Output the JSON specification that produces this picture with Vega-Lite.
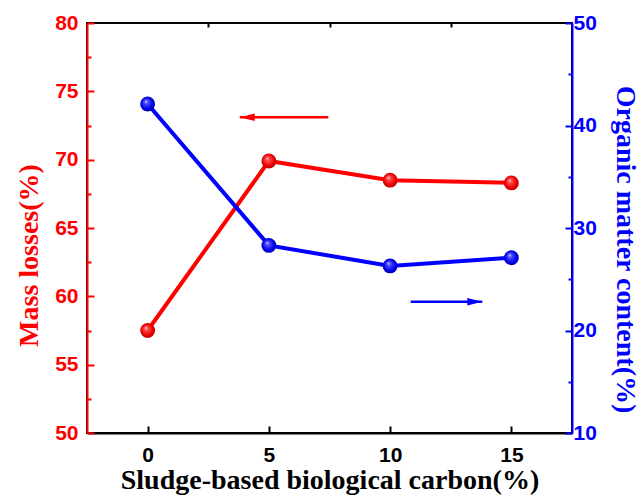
{
  "$schema": "https://vega.github.io/schema/vega-lite/v6.json",
  "width": 485,
  "height": 410,
  "autosize": "none",
  "padding": {"left": 87, "top": 23, "right": 71, "bottom": 66},
  "background": "white",
  "config": {
    "view": {"stroke": "black", "strokeWidth": 2},
    "axis": {"grid": false, "labelFont": "Liberation Sans", "labelFontWeight": "bold", "labelFontSize": 21, "titleFont": "Liberation Serif", "titleFontWeight": "bold", "titleFontSize": 28, "domainWidth": 2, "tickWidth": 2}
  },
  "datasets": {
    "mass": [
      {"carbon": 0, "mass": 57.5},
      {"carbon": 5, "mass": 69.9},
      {"carbon": 10, "mass": 68.5},
      {"carbon": 15, "mass": 68.3}
    ],
    "organic": [
      {"carbon": 0, "organic": 42.1},
      {"carbon": 5, "organic": 28.3},
      {"carbon": 10, "organic": 26.3},
      {"carbon": 15, "organic": 27.1}
    ],
    "redArrow": [{"start": 7.45, "end": 3.8, "mass": 73.1}],
    "blueArrow": [{"start": 10.85, "end": 13.8, "organic": 22.8}]
  },
  "layer": [
    {
      "layer": [
        {
          "data": {"name": "mass"},
          "mark": {"type": "line", "color": "#ff0000", "strokeWidth": 4},
          "encoding": {
            "x": {"field": "carbon", "type": "quantitative", "scale": {"domain": [-2.5, 17.5], "nice": false, "zero": false},
              "axis": {"values": [0, 5, 10, 15], "tickSize": -7, "labelPadding": 18, "title": "Sludge-based biological carbon(%)", "titleColor": "black", "labelColor": "black", "domainColor": "black", "tickColor": "black", "titlePadding": 1, "titleFontSize": 28}},
            "y": {"field": "mass", "type": "quantitative", "scale": {"domain": [50, 80], "nice": false, "zero": false},
              "axis": {"orient": "left", "values": [50, 55, 60, 65, 70, 75, 80], "tickSize": -7, "labelPadding": 16, "title": "Mass losses(%)", "titleColor": "#ff0000", "labelColor": "#ff0000", "domainColor": "#ff0000", "tickColor": "#ff0000", "titlePadding": 11, "titleY": 232, "titleFontSize": 28}}
          }
        },
        {
          "data": {"name": "mass"},
          "mark": {"type": "point", "filled": true, "size": 220, "opacity": 1,
            "fill": {"gradient": "radial", "x1": 0.38, "y1": 0.32, "r1": 0, "x2": 0.5, "y2": 0.5, "r2": 0.55,
              "stops": [{"offset": 0, "color": "#ffdddd"}, {"offset": 0.22, "color": "#ff5050"}, {"offset": 0.7, "color": "#ee0000"}, {"offset": 1, "color": "#b00000"}]}},
          "encoding": {
            "x": {"field": "carbon", "type": "quantitative",
              "axis": {"values": [2.5, 7.5, 12.5], "tickSize": -4, "labels": false, "domain": false, "title": null, "tickColor": "black"}},
            "y": {"field": "mass", "type": "quantitative",
              "axis": {"orient": "left", "values": [52.5, 57.5, 62.5, 67.5, 72.5, 77.5], "tickSize": -4, "labels": false, "domain": false, "title": null, "tickColor": "#ff0000"}}
          }
        },
        {
          "data": {"name": "redArrow"},
          "mark": {"type": "rule", "color": "#ff0000", "strokeWidth": 2.5},
          "encoding": {
            "x": {"field": "start", "type": "quantitative", "axis": null},
            "x2": {"field": "end"},
            "y": {"field": "mass", "type": "quantitative", "axis": null}
          }
        },
        {
          "data": {"name": "redArrow"},
          "mark": {"type": "point", "filled": true, "opacity": 1, "color": "#ff0000", "size": 225, "shape": "M0,0L2,-0.5L2,0.5Z"},
          "encoding": {
            "x": {"field": "end", "type": "quantitative", "axis": null},
            "y": {"field": "mass", "type": "quantitative", "axis": null}
          }
        }
      ],
      "resolve": {"axis": {"x": "independent", "y": "independent"}}
    },
    {
      "layer": [
        {
          "data": {"name": "organic"},
          "mark": {"type": "line", "color": "#0000ff", "strokeWidth": 4},
          "encoding": {
            "x": {"field": "carbon", "type": "quantitative", "axis": null},
            "y": {"field": "organic", "type": "quantitative", "scale": {"domain": [10, 50], "nice": false, "zero": false},
              "axis": {"orient": "right", "values": [10, 20, 30, 40, 50], "tickSize": -7, "labelPadding": 8, "title": "Organic matter content(%)", "titleColor": "#0000ff", "labelColor": "#0000ff", "domainColor": "#0000ff", "tickColor": "#0000ff", "titlePadding": 14, "titleY": 226, "titleFontSize": 28}}
          }
        },
        {
          "data": {"name": "organic"},
          "mark": {"type": "point", "filled": true, "size": 220, "opacity": 1,
            "fill": {"gradient": "radial", "x1": 0.38, "y1": 0.32, "r1": 0, "x2": 0.5, "y2": 0.5, "r2": 0.55,
              "stops": [{"offset": 0, "color": "#ddddff"}, {"offset": 0.22, "color": "#5050ff"}, {"offset": 0.7, "color": "#0000ee"}, {"offset": 1, "color": "#0000a0"}]}},
          "encoding": {
            "x": {"field": "carbon", "type": "quantitative", "axis": null},
            "y": {"field": "organic", "type": "quantitative",
              "axis": {"orient": "right", "values": [15, 25, 35, 45], "tickSize": -4, "labels": false, "domain": false, "title": null, "tickColor": "#0000ff"}}
          }
        },
        {
          "data": {"name": "blueArrow"},
          "mark": {"type": "rule", "color": "#0000ff", "strokeWidth": 2.5},
          "encoding": {
            "x": {"field": "start", "type": "quantitative", "axis": null},
            "x2": {"field": "end"},
            "y": {"field": "organic", "type": "quantitative", "axis": null}
          }
        },
        {
          "data": {"name": "blueArrow"},
          "mark": {"type": "point", "filled": true, "opacity": 1, "color": "#0000ff", "size": 225, "shape": "M0,0L-2,-0.5L-2,0.5Z"},
          "encoding": {
            "x": {"field": "end", "type": "quantitative", "axis": null},
            "y": {"field": "organic", "type": "quantitative", "axis": null}
          }
        }
      ],
      "resolve": {"axis": {"x": "independent", "y": "independent"}}
    }
  ],
  "resolve": {"scale": {"y": "independent"}, "axis": {"x": "independent"}}
}
